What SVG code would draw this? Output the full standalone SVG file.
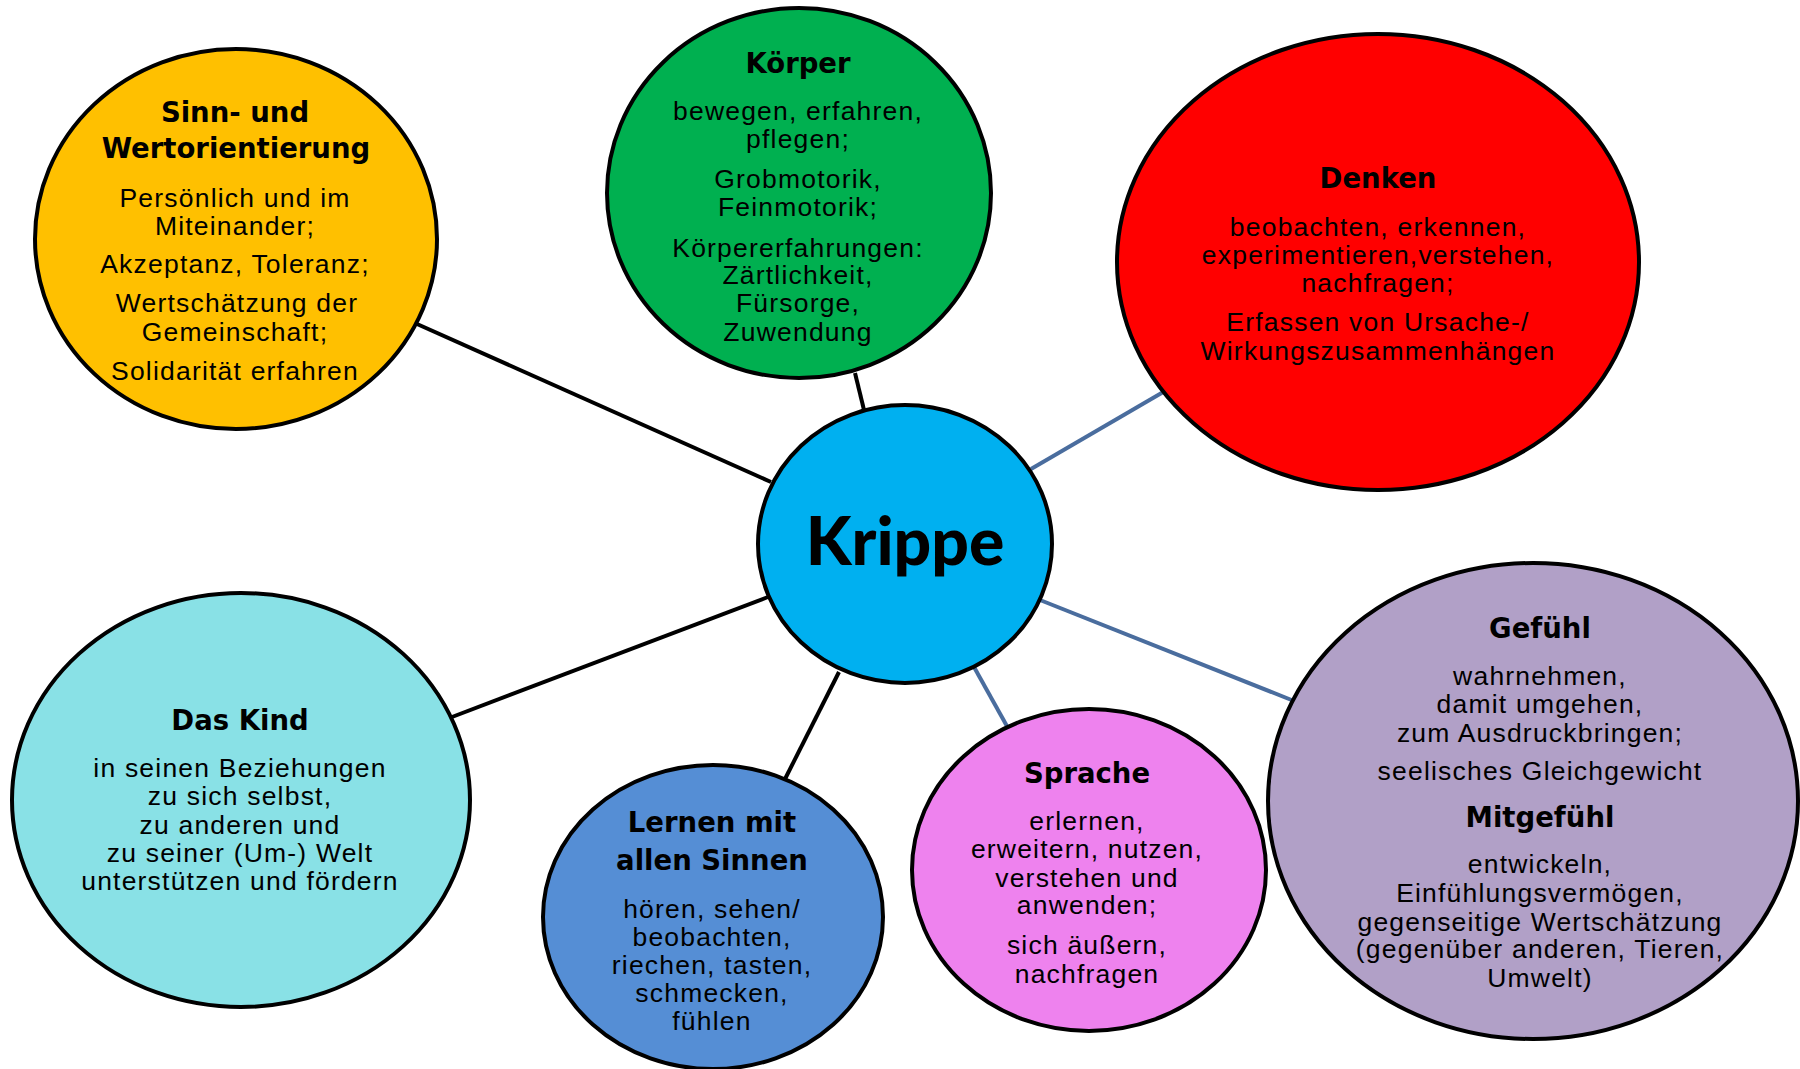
<svg xmlns="http://www.w3.org/2000/svg" width="1800" height="1069" viewBox="0 0 1800 1069">
<style>
.c{stroke:#000;stroke-width:4}
.t{font-family:"DejaVu Sans","Liberation Sans",sans-serif;font-weight:bold;font-size:27.5px;fill:#000;text-anchor:middle}
.b{font-family:"Liberation Sans",Arial,sans-serif;font-size:26.5px;letter-spacing:1.2px;fill:#000;text-anchor:middle}
.k{stroke:#000;stroke-width:4}
.u{stroke:#4A6D9E;stroke-width:4}
</style>
<rect width="1800" height="1069" fill="#fff"/>
<g id="connectors">
<line class="k" x1="417" y1="324" x2="771" y2="482"/>
<line class="k" x1="855" y1="373" x2="864" y2="410"/>
<line class="u" x1="1031" y1="469" x2="1165" y2="391"/>
<line class="u" x1="1040" y1="600" x2="1294" y2="701"/>
<line class="u" x1="974" y1="667" x2="1008" y2="728"/>
<line class="k" x1="839" y1="672" x2="784" y2="781"/>
<line class="k" x1="768" y1="597" x2="452" y2="717"/>
</g>
<g id="sinn">
<ellipse class="c" cx="236" cy="239" rx="201" ry="190" fill="#FFC000"/>
<text class="t" x="235" y="122">Sinn- und</text>
<text class="t" x="236" y="158">Wertorientierung</text>
<text class="b" x="235" y="207">Persönlich und im</text>
<text class="b" x="235" y="235">Miteinander;</text>
<text class="b" x="235" y="273">Akzeptanz, Toleranz;</text>
<text class="b" x="237" y="312">Wertschätzung der</text>
<text class="b" x="235" y="341">Gemeinschaft;</text>
<text class="b" x="235" y="380">Solidarität erfahren</text>
</g>
<g id="koerper">
<ellipse class="c" cx="799" cy="193" rx="192" ry="185" fill="#00B050"/>
<text class="t" x="798" y="73">Körper</text>
<text class="b" x="798" y="120">bewegen, erfahren,</text>
<text class="b" x="798" y="148">pflegen;</text>
<text class="b" x="798" y="188">Grobmotorik,</text>
<text class="b" x="798" y="216">Feinmotorik;</text>
<text class="b" x="798" y="257">Körpererfahrungen:</text>
<text class="b" x="798" y="284">Zärtlichkeit,</text>
<text class="b" x="798" y="312">Fürsorge,</text>
<text class="b" x="798" y="341">Zuwendung</text>
</g>
<g id="denken">
<ellipse class="c" cx="1378" cy="262" rx="261" ry="228" fill="#FF0000"/>
<text class="t" x="1378" y="188">Denken</text>
<text class="b" x="1378" y="236">beobachten, erkennen,</text>
<text class="b" x="1378" y="264">experimentieren,verstehen,</text>
<text class="b" x="1378" y="292">nachfragen;</text>
<text class="b" x="1378" y="331">Erfassen von Ursache-/</text>
<text class="b" x="1378" y="360">Wirkungszusammenhängen</text>
</g>
<g id="krippe">
<ellipse class="c" cx="905" cy="544" rx="147" ry="139" fill="#00B0F0"/>
<text x="905" y="565" font-family="Lato,'DejaVu Sans',sans-serif" font-weight="900" font-size="66" text-anchor="middle" fill="#000">Krippe</text>
</g>
<g id="daskind">
<ellipse class="c" cx="241" cy="800" rx="229" ry="207" fill="#89E1E6"/>
<text class="t" x="240" y="730">Das Kind</text>
<text class="b" x="240" y="777">in seinen Beziehungen</text>
<text class="b" x="240" y="805">zu sich selbst,</text>
<text class="b" x="240" y="834">zu anderen und</text>
<text class="b" x="240" y="862">zu seiner (Um-) Welt</text>
<text class="b" x="240" y="890">unterstützen und fördern</text>
</g>
<g id="lernen">
<ellipse class="c" cx="713" cy="917" rx="170" ry="152" fill="#558ED5"/>
<text class="t" x="712" y="832">Lernen mit</text>
<text class="t" x="712" y="870">allen Sinnen</text>
<text class="b" x="712" y="918">hören, sehen/</text>
<text class="b" x="712" y="946">beobachten,</text>
<text class="b" x="712" y="974">riechen, tasten,</text>
<text class="b" x="712" y="1002">schmecken,</text>
<text class="b" x="712" y="1030">fühlen</text>
</g>
<g id="sprache">
<ellipse class="c" cx="1089" cy="870" rx="177" ry="161" fill="#EE82EE"/>
<text class="t" x="1087" y="783">Sprache</text>
<text class="b" x="1087" y="830">erlernen,</text>
<text class="b" x="1087" y="858">erweitern, nutzen,</text>
<text class="b" x="1087" y="887">verstehen und</text>
<text class="b" x="1087" y="914">anwenden;</text>
<text class="b" x="1087" y="954">sich äußern,</text>
<text class="b" x="1087" y="983">nachfragen</text>
</g>
<g id="gefuehl">
<ellipse class="c" cx="1533" cy="801" rx="265" ry="238" fill="#B1A0C7"/>
<text class="t" x="1540" y="638">Gefühl</text>
<text class="b" x="1540" y="685">wahrnehmen,</text>
<text class="b" x="1540" y="713">damit umgehen,</text>
<text class="b" x="1540" y="742">zum Ausdruckbringen;</text>
<text class="b" x="1540" y="780">seelisches Gleichgewicht</text>
<text class="t" x="1540" y="827">Mitgefühl</text>
<text class="b" x="1540" y="873">entwickeln,</text>
<text class="b" x="1540" y="902">Einfühlungsvermögen,</text>
<text class="b" x="1540" y="931">gegenseitige Wertschätzung</text>
<text class="b" x="1540" y="958">(gegenüber anderen, Tieren,</text>
<text class="b" x="1540" y="987">Umwelt)</text>
</g>
</svg>
